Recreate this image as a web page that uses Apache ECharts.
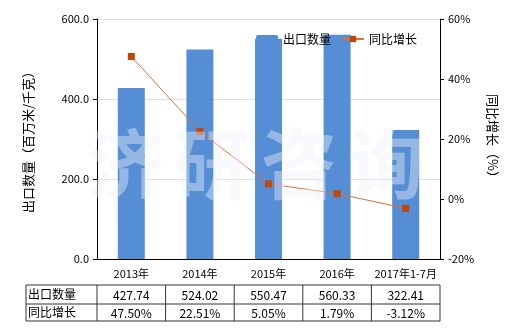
<!DOCTYPE html>
<html><head><meta charset="utf-8">
<script src="https://cdn.jsdelivr.net/npm/echarts@6/dist/echarts.min.js"></script>
<style>html,body{margin:0;padding:0;background:#fff}#c{width:520px;height:330px}</style>
</head><body><div id="c"></div>
<script>
const categories = ['2013年','2014年','2015年','2016年','2017年1-7月'];
const exportQty = [427.74, 524.02, 550.47, 560.33, 322.41];
const yoyGrowth = [47.50, 22.51, 5.05, 1.79, -3.12];
const qtyLabels = ['427.74','524.02','550.47','560.33','322.41'];
const yoyLabels = ['47.50%','22.51%','5.05%','1.79%','-3.12%'];
const seriesNames = ['出口数量','同比增长'];
const leftName = '出口数量（百万米/千克）';
const rightName = '同比增长（%）';
const watermark = ['济','研','咨','询'];

const FONT = '"Noto Sans CJK SC", "DejaVu Sans", sans-serif';
const G = {left: 97, right: 80, top: 19, bottom: 71};
const chart = echarts.init(document.getElementById('c'), null, {renderer: 'canvas'});

const option = {
  animation: false,
  backgroundColor: '#fff',
  textStyle: {fontFamily: FONT},
  grid: {left: G.left, right: G.right, top: G.top, bottom: G.bottom},
  legend: {
    data: [seriesNames[0], {name: seriesNames[1], itemStyle: {borderWidth: 0}}],
    left: 254, top: 31, itemGap: 10, itemWidth: 22, itemHeight: 8,
    padding: [2, 2],
    textStyle: {fontSize: 12, color: '#000', fontFamily: FONT}
  },
  xAxis: {
    type: 'category', data: categories,
    axisLine: {lineStyle: {color: '#000'}},
    axisTick: {alignWithLabel: true, length: 4, lineStyle: {color: '#000'}},
    axisLabel: {color: '#000', fontSize: 11, margin: 9, interval: 0, fontFamily: FONT}
  },
  yAxis: [{
    type: 'value', min: 0, max: 600, interval: 200,
    name: leftName, nameLocation: 'middle', nameGap: 62, nameRotate: 90,
    nameTextStyle: {fontSize: 13, color: '#000', fontFamily: FONT},
    axisLine: {show: true, lineStyle: {color: '#000'}},
    axisTick: {show: true, length: 4, lineStyle: {color: '#000'}},
    axisLabel: {color: '#000', fontSize: 11, formatter: v => v.toFixed(1), fontFamily: FONT},
    splitLine: {lineStyle: {color: '#e0e0e0'}}
  }, {
    type: 'value', min: -20, max: 60, interval: 20,
    name: rightName, nameLocation: 'middle', nameGap: 46, nameRotate: -90,
    nameTextStyle: {fontSize: 13, color: '#000', fontFamily: FONT},
    axisLine: {show: true, lineStyle: {color: '#000'}},
    axisTick: {show: true, length: 4, lineStyle: {color: '#000'}},
    axisLabel: {color: '#000', fontSize: 11, formatter: v => v + '%', fontFamily: FONT},
    splitLine: {show: false}
  }],
  series: [{
    name: seriesNames[0], type: 'bar', data: exportQty, barWidth: 27,
    itemStyle: {color: '#558ED5'}, z: 2
  }, {
    name: seriesNames[1], type: 'line', yAxisIndex: 1, data: yoyGrowth,
    symbol: 'rect', symbolSize: 7,
    lineStyle: {color: '#E0703A', width: 1},
    itemStyle: {color: '#C0460A'}, z: 5
  }]
};
chart.setOption(option);

// Watermark + data table built from the arrays and the axis scale
const els = [];
const wmX = [125, 212, 299, 386];
watermark.forEach((ch, i) => {
  els.push({type: 'text', x: wmX[i], y: 164, z: 100, silent: true,
    style: {text: ch, fontSize: 76, fontWeight: 'bold', align: 'center', verticalAlign: 'middle',
      fill: 'rgba(236,241,248,0.42)', fontFamily: FONT}});
});
const x0 = 26, plotL = G.left, plotR = 520 - G.right;
const rows = [285, 304, 321];
const step = (plotR - plotL) / categories.length;
rows.forEach(y => els.push({type: 'line', shape: {x1: x0, y1: y, x2: plotR, y2: y}, style: {stroke: '#333', lineWidth: 1}}));
[x0, plotL].concat(categories.map((c, i) => plotL + step * (i + 1))).forEach(x =>
  els.push({type: 'line', shape: {x1: x, y1: rows[0], x2: x, y2: rows[2]}, style: {stroke: '#333', lineWidth: 1}}));
seriesNames.forEach((n, r) => {
  els.push({type: 'text', x: x0 + 2, y: (rows[r] + rows[r + 1]) / 2,
    style: {text: n, fontSize: 12, fill: '#000', verticalAlign: 'middle', fontFamily: FONT}});
});
[qtyLabels, yoyLabels].forEach((arr, r) => {
  arr.forEach((t, i) => {
    const cx = chart.convertToPixel({xAxisIndex: 0}, categories[i]);
    els.push({type: 'text', x: cx, y: (rows[r] + rows[r + 1]) / 2 + 1,
      style: {text: t, fontSize: 12, fill: '#000', align: 'center', verticalAlign: 'middle', fontFamily: FONT}});
  });
});
chart.setOption({graphic: {elements: els}});
</script></body></html>
